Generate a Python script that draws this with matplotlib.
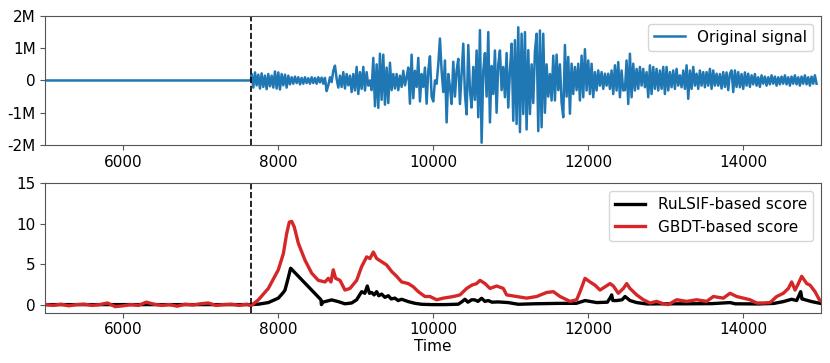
import numpy as np
import matplotlib
matplotlib.use("Agg")
import matplotlib.pyplot as plt

# ---------------- data ----------------
change_point = 7650

# flat part of the original signal before the change point
flat_time = [5000, 7650]
flat_value = [0.0, 0.0]

# oscillating part: values (in millions) read every 21.5 time units from 7660
sig_start = 7660
sig_step = 21.5
sig_value_m = [
    # 7660 - 8778
    0.2, -0.22, 0.25, -0.15, 0.18, -0.25, 0.22, -0.2, 0.15, -0.27, 0.2, -0.18, 0.15, -0.22,
    0.28, -0.25, 0.25, -0.28, 0.2, -0.15, 0.18, -0.22,
    0.15, -0.12, 0.1, -0.1, 0.12, -0.08, 0.1, -0.12, 0.08, -0.1, 0.1, -0.08, 0.07, -0.1,
    0.1, -0.08, 0.08, -0.1, 0.1, -0.06, 0.09, -0.1, 0.08,
    -0.33, -0.15, 0.1, -0.05, 0.3, 0.46, 0.05, -0.22,
    # 8800 - 10004
    0.15, -0.2, 0.26, -0.25, 0.2, -0.15, 0.15, -0.36, 0.2, -0.31, 0.42, -0.42, 0.26, -0.26,
    0.42, -0.31, 0.26, -0.16, 0.0,
    -0.3, 0.7, -0.8, 0.5, -0.85, 0.83, -0.6, 0.8, -0.75, 0.4, -0.7, 0.55, -0.3, 0.2,
    -0.25, 0.2, -0.3, 0.15, -0.2, 0.3, -0.15, 0.1,
    0.4, -0.72, 0.8, -0.55, 0.3, -0.2, 0.7, -0.65, 0.2,
    -0.2, 0.4, -0.72, 0.3, 0.75, -0.5, -0.65,
    # 10026 - 11230
    0.0, -0.1, 0.5, 1.3, 0.3, -0.36, 0.62, -1.3, 0.2, -0.2, -0.73, 0.58, -0.5, 0.3, 0.67,
    -0.73, 0.2, 1.14, -0.42, -1.05, 1.1, -0.3, -0.84, 0.42, -0.6, 0.93, -1.14, 1.56, -1.93,
    0.3, 0.85, -0.5, 1.5, -1.3, 0.45, -0.42, 0.93, -1.0, 0.5, 0.93, -0.3, 0.42, -0.52, 0.85,
    -0.84, 0.3, 1.14, -1.25, 1.25, -1.35, 1.65, -1.6, 1.45, -1.04, 1.5, -1.52, 0.94,
    # 11252 - 12456
    -1.04, 0.5, -0.7, 0.9, 1.45, -1.57, 1.55, -1.45, 1.45, -1.0, 0.5, -0.5, 0.2, -0.62, 0.77,
    -0.62, 0.8, -0.3, 0.5, -0.68, -1.14, 1.1, -0.5, 0.73, -1.03, 0.52, -0.42, 0.42, -0.3,
    0.52, -0.62, 0.77, -0.52, 0.97, -0.31, 0.62, -0.42, 0.52, -0.52, 0.26, -0.31, 0.31,
    -0.16, 0.26, -0.26, 0.21, -0.16, 0.21, -0.26, 0.31, -0.42, 0.47, -0.31, 0.57, -0.52,
    0.31, -0.31,
    # 12477 - 13681
    -0.3, 0.62, -0.73, 0.83, -0.52, 0.52, -0.31, 0.36, -0.26, 0.42, -0.16, 0.36, -0.21, 0.26,
    -0.52, 0.47, -0.42, 0.42, -0.26, 0.36, -0.31, 0.31, -0.26, 0.42, -0.42, 0.42, -0.31,
    0.26, -0.21, 0.31, -0.26, 0.36, -0.16, 0.16, -0.21, 0.31, -0.26, 0.47, -0.57, 0.31,
    -0.26, 0.42, -0.16, 0.21, -0.26, 0.31, -0.16, 0.26, -0.21, 0.26, -0.16, 0.36, -0.26,
    0.31, -0.16, 0.21, -0.16,
    # 13703 - 14950
    0.2, -0.25, 0.26, -0.2, 0.25, -0.3, 0.21, 0.31, -0.36, 0.31, -0.2, 0.26, -0.21, 0.2,
    -0.26, 0.25, -0.16, 0.21, -0.2,
    0.16, -0.12, 0.2, -0.16, 0.1, -0.2, 0.16, -0.1, 0.12, -0.16, 0.1, -0.12, 0.16, -0.1,
    0.12, -0.16, 0.1, -0.12, 0.12, -0.1, 0.16, -0.12,
    0.1, -0.16, 0.12, -0.1, 0.16, -0.12, 0.1, -0.16, 0.12, -0.1, 0.16, -0.12, 0.1, -0.16,
    0.12, -0.1, 0.16, -0.1,
]

gbdt_time = [5000, 5100, 5200, 5300, 5400, 5500, 5600, 5700, 5800, 5900, 6000, 6100, 6200,
             6300, 6400, 6500, 6600, 6700, 6800, 6900, 7000, 7100, 7200, 7300, 7400, 7500,
             7600, 7650,
             7746, 7875, 8004, 8069, 8112, 8146, 8176, 8210, 8262, 8348, 8434, 8520, 8606,
             8649, 8683, 8713, 8744, 8800, 8864, 8929, 9015, 9079, 9144, 9187, 9230, 9273,
             9337, 9402, 9466, 9531, 9595, 9681, 9746, 9810, 9896, 9961, 10047, 10133,
             10262, 10348, 10434, 10499, 10563, 10606, 10671, 10735, 10821, 10907, 10950,
             11079, 11208, 11337, 11466, 11553, 11639, 11768, 11854, 11897, 11961, 12026,
             12090, 12155, 12219, 12284, 12327, 12391, 12456, 12499, 12541, 12628, 12714,
             12800, 12886, 12972, 13036, 13144, 13273, 13402, 13531, 13617, 13746, 13832,
             13918, 14004, 14090, 14176, 14262, 14348, 14434, 14520, 14585, 14628, 14671,
             14714, 14757, 14822, 14865, 14929, 14985, 15000]
gbdt_value = [0.0, -0.1, 0.05, -0.15, 0.0, 0.05, -0.1, 0.0, 0.2, -0.25, -0.15, 0.0, -0.1,
              0.3, 0.05, -0.1, 0.0, -0.2, 0.05, -0.05, 0.1, 0.2, -0.1, 0.0, 0.05, -0.1,
              0.05, -0.15,
              0.58, 2.0, 4.3, 6.3, 8.8, 10.2, 10.3, 9.6, 7.6, 5.5, 3.9, 3.0, 2.8,
              3.25, 2.8, 4.3, 3.25, 3.0, 1.8, 2.0, 3.0, 4.7, 5.9, 5.7, 6.5, 5.7,
              5.3, 4.9, 4.1, 3.5, 2.8, 2.6, 2.2, 1.6, 1.0, 1.0, 0.6, 0.8,
              1.0, 1.2, 2.0, 2.4, 2.6, 3.0, 2.6, 2.0, 2.3, 2.0, 1.2,
              1.0, 0.8, 1.0, 1.5, 1.6, 1.0, 0.4, 0.6, 1.6, 3.25, 2.8,
              2.4, 1.8, 2.2, 2.6, 2.3, 1.4, 2.0, 2.6, 2.0, 1.2, 0.6,
              0.2, 0.4, 0.1, 0.0, 0.6, 0.4, 0.6, 0.4, 1.0, 0.8, 1.4,
              1.0, 0.8, 0.6, 0.2, 0.2, 0.25, 1.0, 1.4, 2.0, 2.8, 1.8,
              2.6, 3.5, 2.6, 2.4, 1.6, 0.6, 0.5]

rulsif_time = [5000, 7650, 7746, 7875, 8004, 8069, 8090, 8124, 8163, 8554, 8560, 8580, 8606,
               8692, 8778, 8864, 8950, 9015, 9079, 9120, 9152, 9180, 9208, 9240, 9273, 9300,
               9337, 9380, 9423, 9460, 9509, 9550, 9595, 9681, 9767, 9853, 9982, 10154,
               10326, 10380, 10412, 10450, 10500, 10541, 10580, 10627, 10670, 10713, 10760,
               10842, 10971, 11100, 11300, 11600, 11850, 11962, 12112, 12250, 12290, 12305,
               12320, 12370, 12440, 12478, 12542, 12628, 12757, 13000, 13300, 13600, 13832,
               13900, 14200, 14400, 14520, 14627, 14692, 14744, 14760, 14778, 14886, 14993,
               15000]
rulsif_value = [0.0, 0.0, 0.05, 0.25, 0.8, 1.5, 1.8, 3.0, 4.5, 0.6, 0.0, 0.3, 0.37,
                0.58, 0.37, 0.1, 0.2, 0.6, 1.6, 1.4, 2.3, 1.4, 1.5, 1.2, 1.6, 1.1,
                1.3, 0.9, 1.1, 0.7, 0.8, 0.5, 0.66, 0.37, 0.16, 0.04, 0.0, 0.0,
                0.05, 0.4, 0.66, 0.3, 0.6, 0.58, 0.4, 0.78, 0.4, 0.5, 0.3,
                0.33, 0.25, 0.04, 0.1, 0.15, 0.16, 0.5, 0.25, 0.3, 0.9, 1.2,
                0.5, 0.5, 0.6, 1.0, 0.5, 0.25, 0.08, 0.1, 0.1, 0.12, 0.25,
                0.1, 0.08, 0.15, 0.37, 0.66, 0.5, 1.6, 0.7, 0.66, 0.37, 0.16,
                0.15]

x_ticks = [6000, 8000, 10000, 12000, 14000]
top_yticks = [-2e6, -1e6, 0, 1e6, 2e6]
top_yticklabels = ["-2M", "-1M", "0", "1M", "2M"]
bottom_yticks = [0, 5, 10, 15]

# ---------------- plot ----------------
plt.rcParams["font.family"] = ["DejaVu Sans"]
plt.rcParams["font.size"] = 11

fig = plt.figure(figsize=(8.3, 3.63), dpi=100)
ax1 = fig.add_axes([0.0548, 0.6006, 0.9338, 0.3554])
ax2 = fig.add_axes([0.0548, 0.1386, 0.9338, 0.3564])

sig_time = sig_start + sig_step * np.arange(len(sig_value_m))
t_all = np.concatenate([flat_time, sig_time])
v_all = np.concatenate([flat_value, np.array(sig_value_m)]) * 1e6

ax1.plot(t_all, v_all, color="#1f77b4", lw=1.8, label="Original signal")
ax1.axvline(change_point, color="black", ls="--", lw=1.2)
ax1.set_xlim(5000, 15000)
ax1.set_ylim(-2e6, 2e6)
ax1.set_xticks(x_ticks)
ax1.set_yticks(top_yticks)
ax1.set_yticklabels(top_yticklabels)
ax1.legend(loc="upper right", fontsize=11)

ax2.plot(rulsif_time, rulsif_value, color="black", lw=2.4, label="RuLSIF-based score")
ax2.plot(gbdt_time, gbdt_value, color="#d62728", lw=2.4, label="GBDT-based score")
ax2.axvline(change_point, color="black", ls="--", lw=1.2)
ax2.set_xlim(5000, 15000)
ax2.set_ylim(-1, 15)
ax2.set_xticks(x_ticks)
ax2.set_yticks(bottom_yticks)
ax2.set_xlabel("Time", labelpad=1)
ax2.legend(loc="upper right", fontsize=11)

for ax in (ax1, ax2):
    for s in ax.spines.values():
        s.set_color("#555555")
    ax.tick_params(color="#555555", labelsize=11)

fig.savefig("out.png", dpi=100)
